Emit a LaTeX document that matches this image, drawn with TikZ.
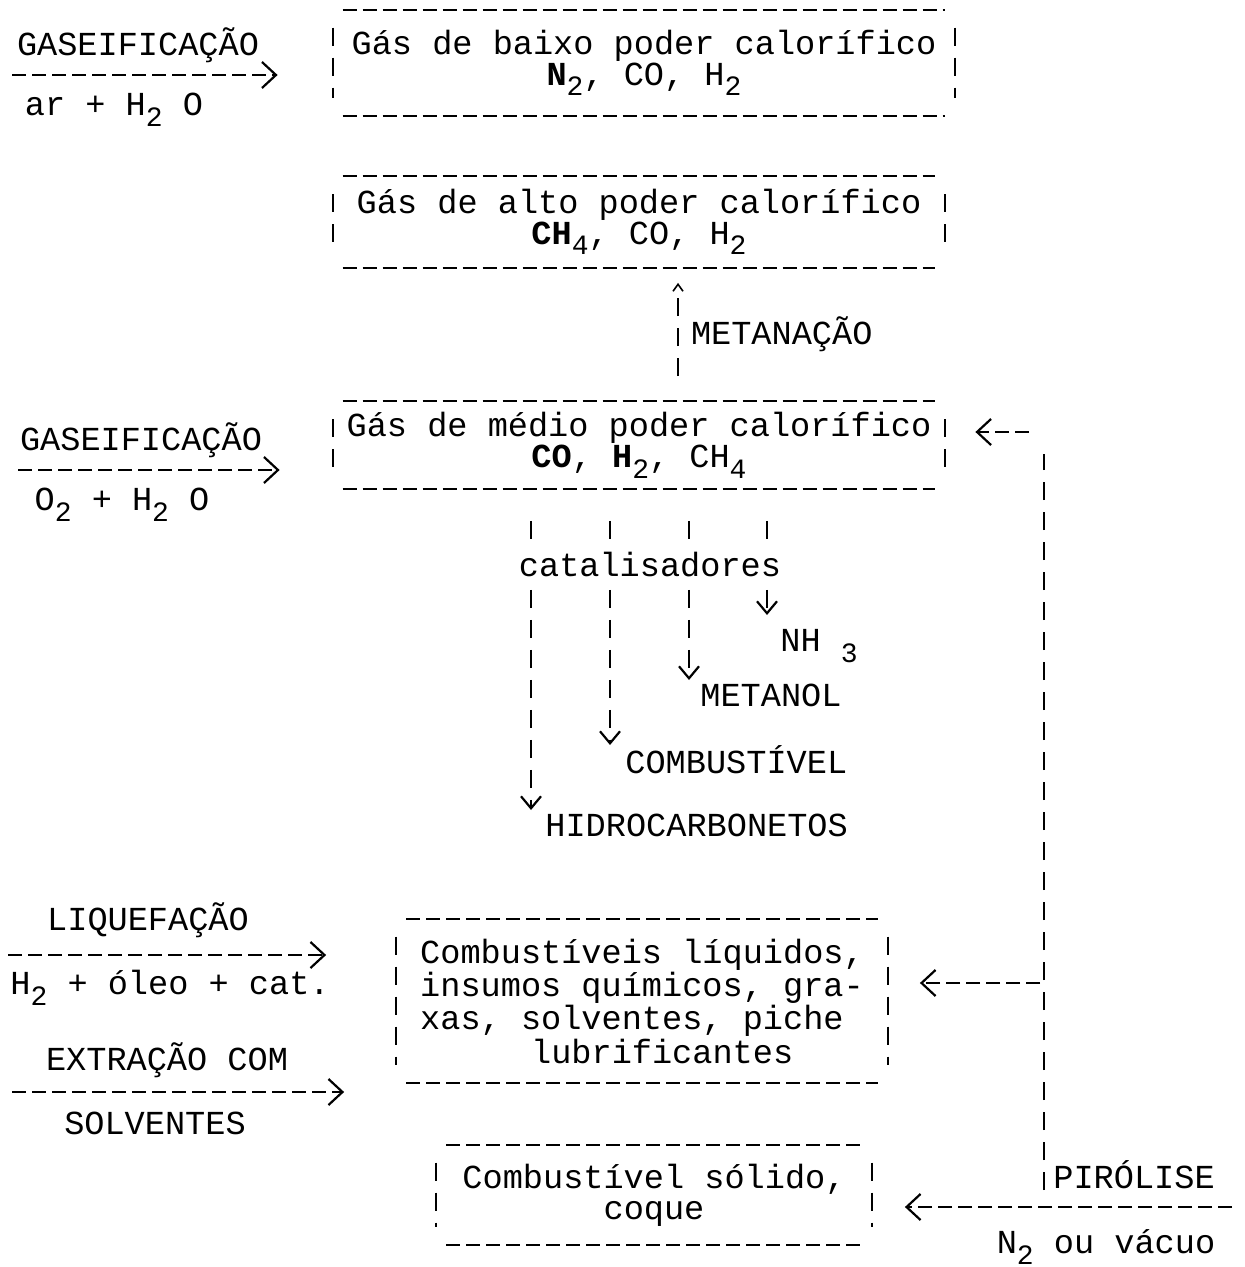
\documentclass[tikz,border=0pt]{standalone}
\usepackage{fontspec}
\setmainfont{Liberation Mono}
\usetikzlibrary{arrows.meta,positioning,calc}
\newcommand{\fonte}{\fontsize{16.8pt}{15.5pt}\selectfont}
\newcommand{\ind}[1]{\raisebox{-0.6ex}{\fontsize{14pt}{14pt}\selectfont #1}}
\tikzset{
  traco/.style={line width=1pt, dash pattern=on 7pt off 3pt},
  barra/.style={line width=1pt, dash pattern=on 9pt off 6pt},
  seta/.style={traco, -{Straight Barb[length=7pt,width=13pt,line width=1.1pt]}},
  desce/.style={barra, -{Straight Barb[length=6pt,width=10pt,line width=1.1pt]}},
  sobe/.style={barra, -{Straight Barb[length=3.5pt,width=5pt,line width=0.8pt]}},
  caixa/.style={inner sep=0pt, align=center},
  rot/.style={inner sep=0pt},
}

\begin{document}
\begin{tikzpicture}[x=0.5pt, y=-0.5pt, every node/.style={font=\fonte}]
  \useasboundingbox (0,0) rectangle (1245,1267);

  % caixas
  \node[caixa, minimum width=311pt, minimum height=53pt] (baixo) at (644,63)
    {Gás de baixo poder calorífico\\\textbf{N}\ind{2}, CO, H\ind{2}};
  \node[caixa, minimum width=306pt, minimum height=45.5pt] (alto) at (639,222)
    {Gás de alto poder calorífico\\\textbf{CH}\ind{4}, CO, H\ind{2}};
  \node[caixa, minimum width=306pt, minimum height=43.5pt] (medio) at (639,445)
    {Gás de médio poder calorífico\\\textbf{CO}, \textbf{H}\ind{2}, CH\ind{4}};
  \node[caixa, minimum width=245.5pt, minimum height=82pt] (liquidos) at (642,1001)
    {Combustíveis líquidos,\\insumos químicos, gra-\\xas, solventes, piche\hphantom{x}\\\hphantom{xx}lubrificantes};
  \node[caixa, minimum width=217.5pt, minimum height=50pt] (solido) at (654,1195)
    {Combustível sólido,\\coque};

  \foreach \c in {baixo,alto,medio,liquidos,solido}{
    \draw[traco] ([xshift=5pt]\c.north west) -- ([xshift=-5pt]\c.north east)
                 ([xshift=5pt]\c.south west) -- ([xshift=-5pt]\c.south east);
    \draw[barra] ([yshift=-9pt]\c.north west) -- ([yshift=9pt]\c.south west)
                 ([yshift=-9pt]\c.north east) -- ([yshift=9pt]\c.south east);
  }

  % entradas pela esquerda
  \coordinate (e1) at (12,75);
  \coordinate (e2) at (18,470);
  \coordinate (e3) at (8,955);
  \coordinate (e4) at (12,1092);
  \draw[seta, shorten >=27.5pt] (e1) -- (e1 -| baixo.west);
  \draw[seta, shorten >=26.5pt] (e2) -- (e2 -| medio.west);
  \draw[seta, shorten >=35pt] (e3) -- (e3 -| liquidos.west);
  \draw[seta, shorten >=26pt] (e4) -- (e4 -| liquidos.west);

  \node[rot] (gas1) at (138,45) {GASEIFICAÇÃO};
  \node[rot] (ar) at (114,110) {ar + H\ind{2} O};
  \node[rot] (gas2) at (141,440) {GASEIFICAÇÃO};
  \node[rot] (oxi) at (122,505) {O\ind{2} + H\ind{2} O};
  \node[rot] (liq) at (148,920) {LIQUEFAÇÃO};
  \node[rot] (oleo) at (170,988) {H\ind{2} + óleo + cat.};
  \node[rot] (ext) at (167,1060) {EXTRAÇÃO COM};
  \node[rot] (solv) at (155,1123) {SOLVENTES};

  % metanacao
  \coordinate (met) at (678,0);
  \draw[sobe, shorten <=12.5pt, shorten >=7.5pt] (medio.north -| met) -- (alto.south -| met)
    node[midway, right=6pt, rot] (metanacao) {METANAÇÃO};

  % catalisadores
  \node[rot] (catal) at (650,565) {catalisadores};
  \coordinate (pnh) at (767,615);
  \coordinate (pmet) at (689,680);
  \coordinate (pcomb) at (610,745);
  \coordinate (phid) at (531,810);
  \node[rot, below right=7pt and 6.5pt of pnh, anchor=north west] (nh) {NH \ind{3}};
  \node[rot, below right=2pt and 5.5pt of pmet, anchor=north west] (metanol) {METANOL};
  \node[rot, below right=0pt and 7.5pt of pcomb, anchor=north west] (comb) {COMBUSTÍVEL};
  \node[rot, below right=2pt and 7pt of phid, anchor=north west] (hidro) {HIDROCARBONETOS};
  \foreach \p in {phid,pcomb,pmet,pnh}{
    \draw[barra, shorten <=16pt, shorten >=5pt] (medio.south -| \p) -- (catal.north -| \p);
    \draw[desce, shorten <=6pt] (catal.south -| \p) -- (\p);
  }

  % pirolise
  \coordinate (pir) at (1044,1190);
  \coordinate (ret) at (1044,432);
  \coordinate (vac) at (1232,1207);
  \coordinate (lq) at ([yshift=9pt]liquidos.east);
  \draw[barra, shorten >=11pt] (pir) -- (ret);
  \draw[seta, shorten <=7.5pt, shorten >=15pt] (ret) -- (ret -| medio.east);
  \draw[seta, shorten <=2pt, shorten >=16pt] (lq -| pir) -- (lq);
  \draw[seta, shorten >=16.5pt] (vac) -- (vac -| solido.east);
  \node[rot, anchor=west] (pirolise) at (1053,1175) {PIRÓLISE};
  \node[rot] (vacuo) at (1106,1247) {N\ind{2} ou vácuo};
\end{tikzpicture}
\end{document}
